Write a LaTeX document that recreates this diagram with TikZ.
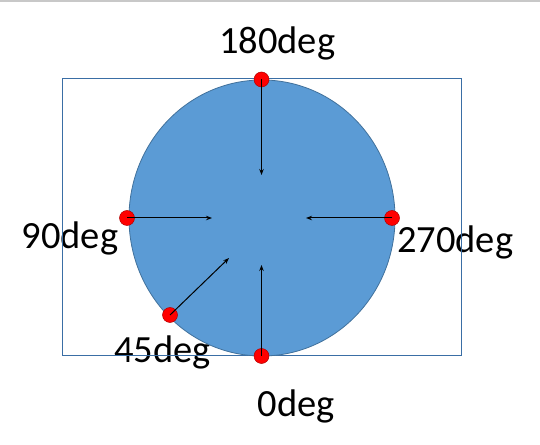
\documentclass[tikz,border=0pt]{standalone}
\usepackage{fontspec}
\setmainfont{Carlito}
\usetikzlibrary{arrows.meta}
\definecolor{fillblue}{HTML}{5B9BD5}
\definecolor{edgeblue}{HTML}{41719C}
\definecolor{rectblue}{HTML}{3A6EA5}
\definecolor{topgray}{HTML}{C8C8C8}
\tikzset{
  dot/.style={circle, fill=red, draw=red!70!black, line width=0.5pt, minimum size=15pt, inner sep=0pt},
  lab/.style={font=\fontsize{38.5}{38.5}\selectfont, inner sep=0pt, anchor=base west},
  ray/.style={draw=black, line width=1pt, -{Stealth[length=6pt,width=4.5pt]}}
}
\begin{document}
\begin{tikzpicture}[x=1pt,y=1pt]
\useasboundingbox (0,0) rectangle (540,444);
\draw[topgray, line width=1.5pt] (0,443) -- (540,443);
\node[lab] (l180) at (219,390.7) {180deg};
\node[lab] (l90) at (21.5,195) {90deg};
\node[lab] (l270) at (397,191.3) {270deg};
\node[lab] (l45) at (114,81.7) {45deg};
\node[lab] (l0) at (257.5,27.3) {0deg};
\draw[rectblue, line width=1pt] (62,88) rectangle (461,365);
\fill[fillblue, draw=edgeblue, line width=0.8pt] (262,226) ellipse [x radius=133, y radius=138];
\node[dot] (d180) at (261.5,364.5) {};
\node[dot] (d90) at (127,226) {};
\node[dot] (d270) at (392,226) {};
\node[dot] (d0) at (261.5,88) {};
\node[dot] (d45) at (170,129) {};
\coordinate (t180) at (261.5,269);
\coordinate (t90) at (212,226);
\coordinate (t270) at (306,226);
\coordinate (t0) at (261.5,179);
\coordinate (t45) at (229,186);
\draw[ray] (d180.center) -- (t180);
\draw[ray] (d90.center) -- (t90);
\draw[ray] (d270.center) -- (t270);
\draw[ray] (d0.center) -- (t0);
\draw[ray] (d45.center) -- (t45);
\end{tikzpicture}
\end{document}
